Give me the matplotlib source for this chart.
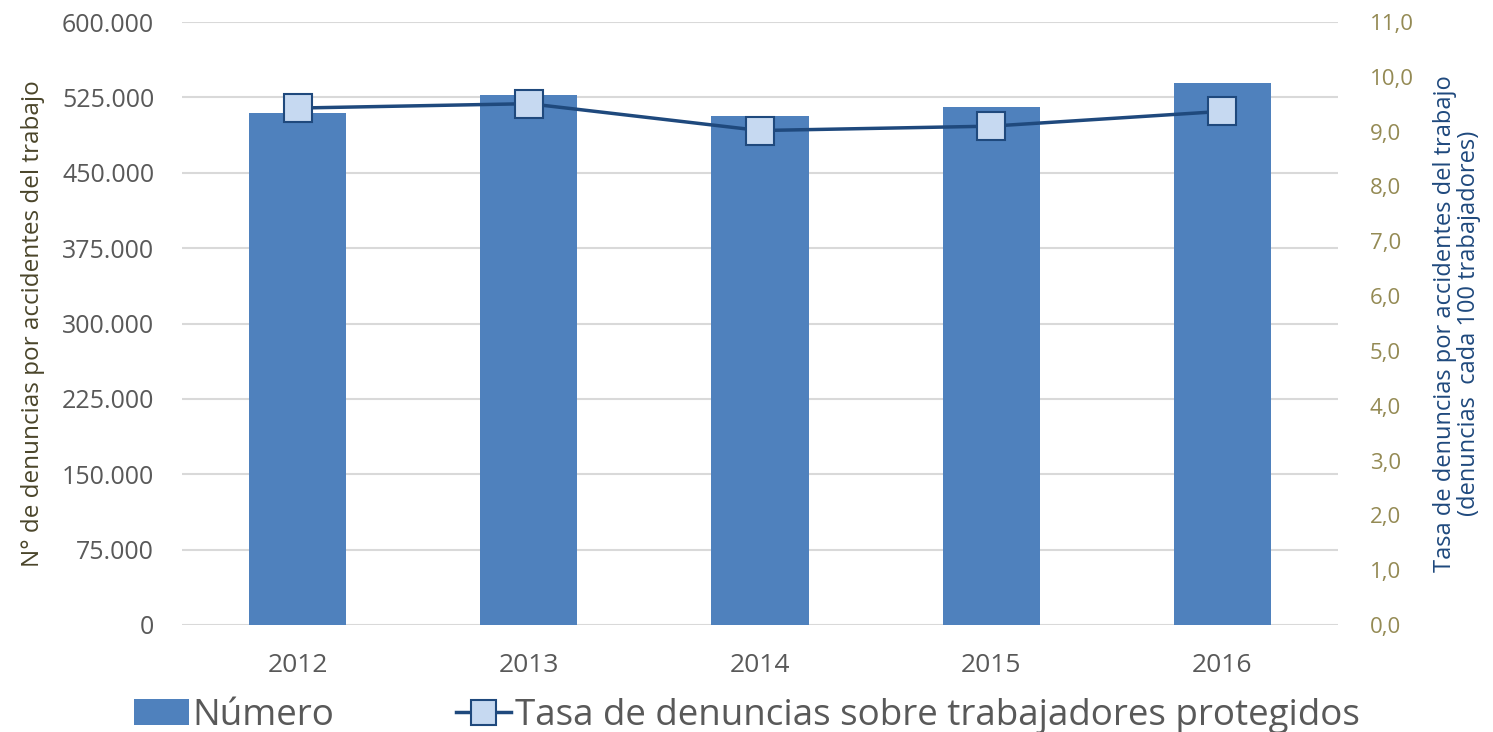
import matplotlib.pyplot as plt
import numpy as np

# datos
anios = ["2012", "2013", "2014", "2015", "2016"]
numero = [509000, 527500, 506500, 515500, 539000]
tasa = [9.43, 9.51, 9.02, 9.10, 9.37]

izq_ticks = [0, 75000, 150000, 225000, 300000, 375000, 450000, 525000, 600000]
der_ticks = list(range(0, 12))

plt.rcParams['font.family'] = ['Open Sans', 'DejaVu Sans']

fig = plt.figure(figsize=(14.93, 7.32), dpi=100)
ax = fig.add_axes([182 / 1493, 1 - 625 / 732, 1156 / 1493, 603 / 732])
ax2 = ax.twinx()

x = np.arange(len(anios))
ax.bar(x, numero, width=0.42, color="#4F81BD", zorder=2, label="Número")
ax2.plot(x, tasa, color="#1F497D", lw=2.5, marker="s", markersize=20,
         markerfacecolor="#C6D9F1", markeredgecolor="#1F497D", markeredgewidth=1.5,
         zorder=3, label="Tasa de denuncias sobre trabajadores protegidos")

ax.set_xlim(-0.5, len(anios) - 0.5)
ax.set_ylim(0, 600000)
ax2.set_ylim(0, 11)

ax.set_yticks(izq_ticks)
ax.set_yticklabels([f"{v:,}".replace(",", ".") for v in izq_ticks], color="#595959", fontsize=18)
ax2.set_yticks(der_ticks)
ax2.set_yticklabels([f"{v:.1f}".replace(".", ",") for v in der_ticks], color="#948A54", fontsize=16)
ax.set_xticks(x)
ax.set_xticklabels(anios, color="#595959", fontsize=19)

ax.grid(axis="y", color="#D9D9D9", lw=1.5, zorder=0)
ax.set_axisbelow(True)
for a in (ax, ax2):
    for s in a.spines.values():
        s.set_visible(False)
    a.tick_params(length=0)
ax.tick_params(axis="y", pad=20)
ax.tick_params(axis="x", pad=20)
ax2.tick_params(axis="y", pad=23)

ax.set_ylabel("N° de denuncias por accidentes del trabajo", color="#4A452A",
              fontsize=17.5, labelpad=12)
ax2.set_ylabel("Tasa de denuncias por accidentes del trabajo\n(denuncias  cada 100 trabajadores)",
               color="#1F497D", fontsize=17, labelpad=14, linespacing=1.0)

h1, l1 = ax.get_legend_handles_labels()
h2, l2 = ax2.get_legend_handles_labels()
fig.legend(h1 + h2, l1 + l2, loc="lower center", bbox_to_anchor=(0.5, -0.048), ncol=2,
           frameon=False, fontsize=26.5, labelcolor="#595959", handlelength=1.5,
           handletextpad=0.1, columnspacing=3.3, markerscale=0.9)

fig.savefig("out.png", dpi=100)
